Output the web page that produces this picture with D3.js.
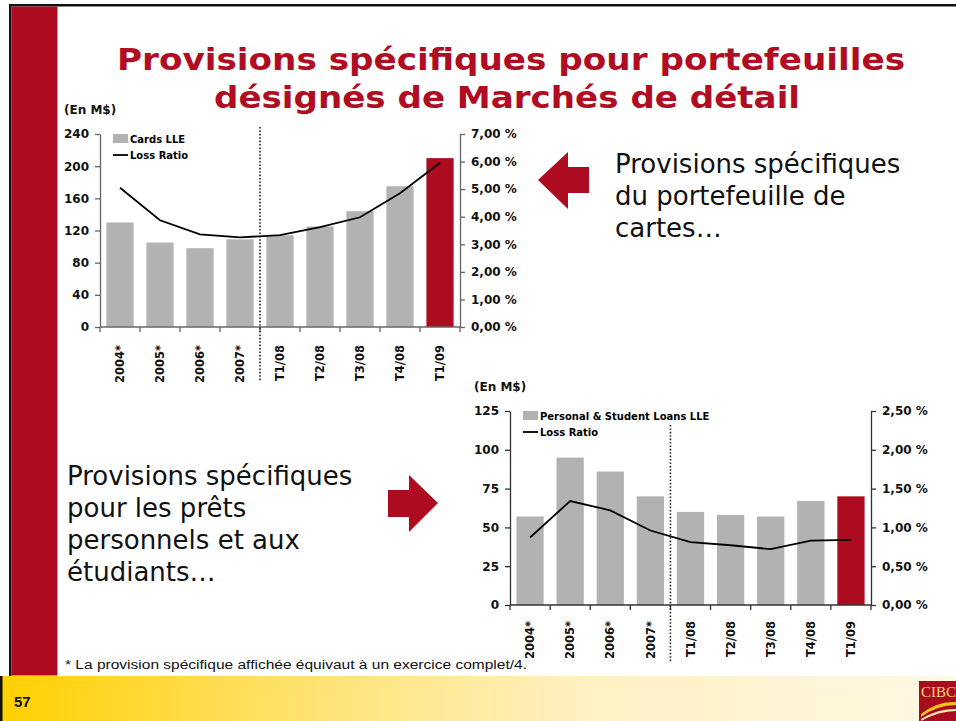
<!DOCTYPE html>
<html>
<head>
<meta charset="utf-8">
<script src="https://cdn.jsdelivr.net/npm/d3@7"></script>
<style>
  body { margin: 0; background: #fff; }
  svg { display: block; }
  text { font-family: "DejaVu Sans", Verdana, sans-serif; }
  .axis text { font-weight: bold; fill: #111; }
  .xlabel { font-weight: bold; font-size: 11.5px; fill: #111; }
</style>
</head>
<body>
<div id="chart"></div>
<script>
/*
** Data
*/
var categories = ["2004*", "2005*", "2006*", "2007*", "T1/08", "T2/08", "T3/08", "T4/08", "T1/09"];

var cardsLLE       = [130, 105, 98, 109, 114, 125, 144, 175, 210];
var cardsLossRatio = [5.05, 3.87, 3.36, 3.25, 3.33, 3.62, 3.98, 4.85, 5.96];
var cardsTicks     = [0, 40, 80, 120, 160, 200, 240];
var cardsPctTicks  = [0, 1, 2, 3, 4, 5, 6, 7];

var loansLLE       = [57, 95, 86, 70, 60, 58, 57, 67, 70];
var loansLossRatio = [0.87, 1.34, 1.22, 0.96, 0.81, 0.77, 0.72, 0.83, 0.84];
var loansTicks     = [0, 25, 50, 75, 100, 125];
var loansPctTicks  = [0, 0.5, 1, 1.5, 2, 2.5];

var RED  = "#ad0b1f";
var GREY = "#b2b2b2";

function BarLineChart(){
    /*
    ** Private Variables
    */
    var svg
      , cats
      , bars
      , ratios
      , barTicks
      , ratioTicks
      , legendLabel
      , box          // [x0, x1, yBottom, yTop]
      , axisColor = "#666"
      , labelTop
      , dividerEnd
    ;

    function my() {
        var g = svg.append("g");

        var x = d3.scaleBand()
            .domain(cats)
            .range([box[0], box[1]])
            .paddingInner(0.32)
            .paddingOuter(0.16)
        ;
        var y = d3.scaleLinear()
            .domain([0, d3.max(barTicks)])
            .range([box[2], box[3]])
        ;
        var y2 = d3.scaleLinear()
            .domain([0, d3.max(ratioTicks)])
            .range([box[2], box[3]])
        ;

        // bars
        g.selectAll("rect.bar")
            .data(bars)
          .enter().append("rect")
            .attr("class", "bar")
            .attr("x", function(d, i) { return x(cats[i]); })
            .attr("width", x.bandwidth())
            .attr("y", function(d) { return y(d); })
            .attr("height", function(d) { return y(0) - y(d); })
            .attr("fill", function(d, i) { return i === bars.length - 1 ? RED : GREY; })
        ;

        // loss ratio line
        var line = d3.line()
            .x(function(d, i) { return x(cats[i]) + x.bandwidth() / 2; })
            .y(function(d) { return y2(d); })
        ;
        g.append("path")
            .datum(ratios)
            .attr("d", line)
            .attr("fill", "none")
            .attr("stroke", "#000")
            .attr("stroke-width", 1.8)
        ;

        // axes
        var left = g.append("g")
            .attr("class", "axis")
            .attr("transform", "translate(" + box[0] + ",0)")
            .call(d3.axisLeft(y).tickValues(barTicks).tickSize(5).tickPadding(6).tickSizeOuter(0))
        ;
        left.selectAll("text").style("font-size", "12px");

        var right = g.append("g")
            .attr("class", "axis")
            .attr("transform", "translate(" + box[1] + ",0)")
            .call(d3.axisRight(y2).tickValues(ratioTicks).tickSize(5).tickPadding(6).tickSizeOuter(0)
                .tickFormat(function(d) { return d.toFixed(2).replace(".", ",") + " %"; }))
        ;
        right.selectAll("text").style("font-size", "12px");

        // category boundaries on the base line
        var bottom = g.append("g")
            .attr("class", "axis")
            .attr("transform", "translate(0," + box[2] + ")")
        ;
        bottom.append("line")
            .attr("x1", box[0]).attr("x2", box[1])
        ;
        bottom.selectAll("line.tick")
            .data(d3.range(cats.length + 1))
          .enter().append("line")
            .attr("class", "tick")
            .attr("x1", function(i) { return box[0] + i * x.step(); })
            .attr("x2", function(i) { return box[0] + i * x.step(); })
            .attr("y2", 5)
        ;
        g.selectAll(".axis path, .axis line")
            .attr("stroke", axisColor)
            .attr("stroke-width", 1.3)
        ;

        // rotated category labels
        g.selectAll("text.xlabel")
            .data(cats)
          .enter().append("text")
            .attr("class", "xlabel")
            .attr("text-anchor", "end")
            .attr("dy", "0.36em")
            .attr("transform", function(d) {
                return "translate(" + (x(d) + x.bandwidth() / 2) + "," + labelTop + ") rotate(-90)";
              })
            .text(function(d) { return d; })
        ;

        // dotted divider between annual and quarterly figures
        var xd = box[0] + 4 * x.step();
        g.append("line")
            .attr("x1", xd).attr("x2", xd)
            .attr("y1", dividerEnd[0]).attr("y2", dividerEnd[1])
            .attr("stroke", "#222")
            .attr("stroke-width", 1.6)
            .attr("stroke-dasharray", "1.6,1.8")
        ;

        // unit label
        g.append("text")
            .attr("x", box[0] - 36)
            .attr("y", box[3] - 20)
            .style("font-size", "12px")
            .style("font-weight", "bold")
            .attr("fill", "#111")
            .text("(En M$)")
        ;

        // legend
        var lg = g.append("g")
            .attr("transform", "translate(" + (box[0] + 13) + "," + (box[3]) + ")")
        ;
        lg.append("rect")
            .attr("x", 0).attr("y", 0)
            .attr("width", 15).attr("height", 9)
            .attr("fill", GREY)
        ;
        lg.append("text")
            .attr("x", 17).attr("y", 8.5)
            .style("font-size", "10px").style("font-weight", "bold")
            .text(legendLabel)
        ;
        lg.append("line")
            .attr("x1", 0).attr("x2", 15)
            .attr("y1", 21).attr("y2", 21)
            .attr("stroke", "#000").attr("stroke-width", 1.8)
        ;
        lg.append("text")
            .attr("x", 17).attr("y", 25)
            .style("font-size", "10px").style("font-weight", "bold")
            .text("Loss Ratio")
        ;
    } // my()

    /*
    ** API (Getter/Setter) Functions
    */
    my.svg = function (value){
        if(arguments.length === 0) return svg;
        svg = value;
        return my;
    };
    my.categories = function (value){
        if(arguments.length === 0) return cats;
        cats = value;
        return my;
    };
    my.bars = function (value){
        if(arguments.length === 0) return bars;
        bars = value;
        return my;
    };
    my.ratios = function (value){
        if(arguments.length === 0) return ratios;
        ratios = value;
        return my;
    };
    my.barTicks = function (value){
        if(arguments.length === 0) return barTicks;
        barTicks = value;
        return my;
    };
    my.ratioTicks = function (value){
        if(arguments.length === 0) return ratioTicks;
        ratioTicks = value;
        return my;
    };
    my.legendLabel = function (value){
        if(arguments.length === 0) return legendLabel;
        legendLabel = value;
        return my;
    };
    my.box = function (value){
        if(arguments.length === 0) return box;
        box = value;
        return my;
    };
    my.axisColor = function (value){
        if(arguments.length === 0) return axisColor;
        axisColor = value;
        return my;
    };
    my.labelTop = function (value){
        if(arguments.length === 0) return labelTop;
        labelTop = value;
        return my;
    };
    my.dividerEnd = function (value){
        if(arguments.length === 0) return dividerEnd;
        dividerEnd = value;
        return my;
    };

    return my;
}

/*
** Slide
*/
var W = 956, H = 721;
var svg = d3.select("#chart").append("svg")
    .attr("width", W)
    .attr("height", H)
;

// frame and red band
svg.append("rect").attr("x", 9).attr("y", 4).attr("width", W - 9).attr("height", 2.5).attr("fill", "#111");
svg.append("rect").attr("x", 9).attr("y", 4).attr("width", 2.5).attr("height", 672).attr("fill", "#111");
svg.append("rect").attr("x", 11.5).attr("y", 6.5).attr("width", 46).attr("height", 669).attr("fill", RED);

// footer
var grad = svg.append("defs").append("linearGradient")
    .attr("id", "foot")
    .attr("x1", 0).attr("x2", 1).attr("y1", 0).attr("y2", 0)
;
grad.append("stop").attr("offset", "0").attr("stop-color", "#ffd000");
grad.append("stop").attr("offset", "0.3").attr("stop-color", "#ffe16a");
grad.append("stop").attr("offset", "0.6").attr("stop-color", "#fff0c0");
grad.append("stop").attr("offset", "1").attr("stop-color", "#fff8e4");
svg.append("rect").attr("x", 0).attr("y", 676).attr("width", W).attr("height", H - 676).attr("fill", "url(#foot)");
svg.append("rect").attr("x", 0).attr("y", 676).attr("width", 2.5).attr("height", H - 676).attr("fill", "#111");
svg.append("text")
    .attr("x", 14).attr("y", 707)
    .style("font-family", "'Liberation Sans Narrow', 'Liberation Sans', sans-serif")
    .style("font-size", "15px").style("font-weight", "bold")
    .attr("fill", "#111")
    .text("57")
;

// CIBC logo
var logo = svg.append("g").attr("transform", "translate(919,681)");
logo.append("rect").attr("width", 37).attr("height", 40).attr("fill", "#a80d1f");
logo.append("text")
    .attr("x", 2).attr("y", 16)
    .style("font-family", "'Liberation Serif', serif")
    .style("font-size", "15px")
    .attr("fill", "#f7d36a")
    .text("CIBC")
;
logo.append("path")
    .attr("d", "M2,33 Q18,20 37,21 L37,24 Q18,24 2,36 Z")
    .attr("fill", "#f6c21b")
;
logo.append("path")
    .attr("d", "M2,38 Q20,27 37,28 L37,30 Q20,30 2,40 Z")
    .attr("fill", "#f9e7b0")
;

// title
svg.append("text")
    .attr("x", 511).attr("y", 70)
    .attr("text-anchor", "middle")
    .attr("textLength", 788).attr("lengthAdjust", "spacingAndGlyphs")
    .style("font-size", "31px").style("font-weight", "bold")
    .attr("fill", "#b00c22")
    .text("Provisions spécifiques pour portefeuilles")
;
svg.append("text")
    .attr("x", 507).attr("y", 108)
    .attr("text-anchor", "middle")
    .attr("textLength", 586).attr("lengthAdjust", "spacingAndGlyphs")
    .style("font-size", "31px").style("font-weight", "bold")
    .attr("fill", "#b00c22")
    .text("désignés de Marchés de détail")
;

// charts
BarLineChart()
    .svg(svg)
    .categories(categories)
    .bars(cardsLLE)
    .ratios(cardsLossRatio)
    .barTicks(cardsTicks)
    .ratioTicks(cardsPctTicks)
    .legendLabel("Cards LLE")
    .box([100, 460, 327, 134])
    .axisColor("#666")
    .labelTop(345)
    .dividerEnd([127, 382])
    ()
;

BarLineChart()
    .svg(svg)
    .categories(categories)
    .bars(loansLLE)
    .ratios(loansLossRatio)
    .barTicks(loansTicks)
    .ratioTicks(loansPctTicks)
    .legendLabel("Personal & Student Loans LLE")
    .box([510, 871, 605, 411])
    .axisColor("#333")
    .labelTop(621)
    .dividerEnd([425, 663])
    ()
;

// arrows
svg.append("path")
    .attr("d", "M538,180 L568,152 L568,167 L589,167 L589,193 L568,193 L568,209 Z")
    .attr("fill", RED)
;
svg.append("path")
    .attr("d", "M438,503 L409,475 L409,490 L388,490 L388,517 L409,517 L409,532 Z")
    .attr("fill", RED)
;

// side notes
function note(x, y, lines) {
    var t = svg.append("text")
        .attr("x", x).attr("y", y)
        .style("font-size", "26px")
        .attr("fill", "#111")
    ;
    t.selectAll("tspan")
        .data(lines)
      .enter().append("tspan")
        .attr("x", x)
        .attr("dy", function(d, i) { return i === 0 ? 0 : 32; })
        .text(function(d) { return d; })
    ;
}
note(615, 173, ["Provisions spécifiques", "du portefeuille de", "cartes…"]);
note(67, 485, ["Provisions spécifiques", "pour les prêts", "personnels et aux", "étudiants…"]);

// footnote
svg.append("text")
    .attr("x", 65).attr("y", 669)
    .attr("textLength", 462).attr("lengthAdjust", "spacingAndGlyphs")
    .style("font-family", "'Liberation Sans Narrow', 'Liberation Sans', sans-serif")
    .style("font-size", "12px")
    .attr("fill", "#111")
    .text("* La provision spécifique affichée équivaut à un exercice complet/4.")
;
</script>
</body>
</html>
